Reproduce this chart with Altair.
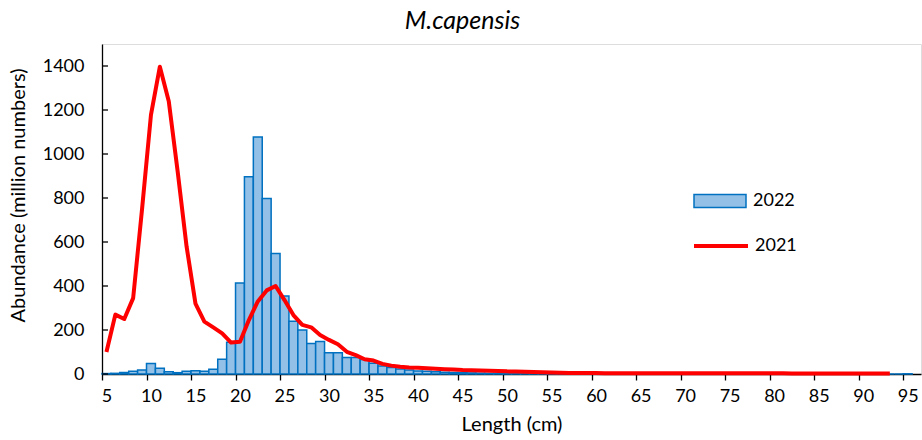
import altair as alt
import pandas as pd

# ---- data ----
lengths_2022 = list(range(5, 96))
values_2022 = [2, 3, 7, 12, 18, 48, 26, 10, 6, 12, 15, 12, 22, 67, 144, 414, 897, 1077, 798, 548,
               355, 240, 200, 139, 148, 97, 97, 75, 75, 66, 49, 36, 29, 23, 18, 14, 12, 10, 8, 7,
               6, 5, 4, 3, 3, 2, 2, 2, 1, 1, 1, 0, 0, 0, 0, 0, 0, 0, 0, 0,
               0, 0, 0, 0, 0, 0, 0, 0, 0, 0, 0, 0, 0, 0, 0, 0, 0, 0, 0, 0,
               0, 0, 0, 0, 0, 0, 0, 0, 0, 0, 1]

lengths_2021 = list(range(5, 94))
values_2021 = [100, 270, 250, 345, 750, 1178, 1397, 1240, 920, 580, 320, 238, 212, 185, 143, 147,
               245, 330, 380, 400, 336, 268, 223, 212, 177, 155, 135, 101, 86, 67, 61, 46, 38, 33,
               30, 28, 26, 24, 22, 20, 18, 17, 16, 15, 14, 12, 11, 10, 9, 8, 7, 6, 5, 5, 4, 4,
               3, 3, 3, 3, 3, 3, 3, 3, 3, 3, 3, 3, 3, 3, 3, 3, 3, 3, 3, 3, 3, 2, 2, 2, 2, 2, 2,
               2, 2, 2, 2, 2, 2]

x_labels = list(range(5, 100, 5))
y_labels = list(range(0, 1600, 200))

df22 = pd.DataFrame({"L": lengths_2022, "v": values_2022, "series": "2022"})
df21 = pd.DataFrame({"L": lengths_2021, "v": values_2021, "series": "2021"})
dft = pd.DataFrame({"t": y_labels})

FONT = "Lato"
BLUE = "#0070C0"
RED = "#FF0000"
FILL = "#92c0e6"

xscale = alt.Scale(domain=[4.5, 96.5], nice=False, zero=False)
yscale = alt.Scale(domain=[0, 1500], nice=False)

xaxis = alt.Axis(values=x_labels, title="Length (cm)", grid=False, tickSize=6,
                 tickOffset=-4.45, labelOffset=4.45, labelFontSize=18, labelFont=FONT,
                 labelColor="#000", titleFont=FONT, titleFontSize=20, titleFontWeight="normal",
                 titleColor="#000", domainColor="#000", domainWidth=1.3, tickColor="#000",
                 tickWidth=1.3, labelPadding=7, titlePadding=9, labelFlush=False)
yaxis = alt.Axis(values=y_labels, format="d", title="Abundance (million numbers)", grid=False,
                 ticks=False, labelFontSize=18, labelFont=FONT, labelColor="#000",
                 titleFont=FONT, titleFontSize=20, titleFontWeight="normal", titleColor="#000",
                 titleAngle=270, titleAlign="center", titleBaseline="middle",
                 titleX=-84, titleY=151,
                 domainColor="#000", domainWidth=1.3, labelPadding=18)

bars = alt.Chart(df22).transform_calculate(
    lo="datum.L - 0.5", hi="datum.L + 0.5"
).mark_bar(stroke=BLUE, strokeWidth=1.5).encode(
    x=alt.X("lo:Q", scale=xscale, axis=xaxis),
    x2="hi:Q",
    y=alt.Y("v:Q", scale=yscale, axis=yaxis),
    y2=alt.datum(0),
    fill=alt.Fill("series:N", scale=alt.Scale(domain=["2022"], range=[FILL]),
                  legend=alt.Legend(title=None, orient="none", legendX=591, legendY=130,
                                    symbolType="M-1,-0.25H1V0.25H-1Z", symbolSize=2704,
                                    symbolStrokeColor=BLUE, symbolStrokeWidth=1.5,
                                    symbolOpacity=1, labelFont=FONT, labelFontSize=18,
                                    labelColor="#000", labelOffset=6, padding=0)),
)

line = alt.Chart(df21).mark_line(strokeWidth=4, strokeJoin="round").encode(
    x=alt.X("L:Q", scale=xscale, axis=xaxis),
    y=alt.Y("v:Q", scale=yscale, axis=yaxis),
    stroke=alt.Stroke("series:N", scale=alt.Scale(domain=["2021"], range=[RED]),
                      legend=alt.Legend(title=None, orient="none", legendX=590, legendY=173,
                                        symbolType="stroke", symbolSize=2916,
                                        symbolStrokeWidth=4, labelFont=FONT, labelFontSize=18,
                                        labelColor="#000", labelOffset=5, padding=0)),
)

yticks = alt.Chart(dft).mark_rule(color="#000", strokeWidth=1.3).encode(
    y=alt.Y("t:Q", scale=yscale, axis=yaxis),
    x=alt.value(0),
    x2=alt.value(6),
)

chart = alt.layer(bars, line, yticks).resolve_scale(
    fill="independent", stroke="independent"
).properties(
    width=819,
    height=330,
    title=alt.TitleParams("M.capensis", font=FONT, fontSize=25, fontStyle="italic",
                          fontWeight="normal", color="#000", anchor="middle", dx=-49, offset=10),
    autosize=alt.AutoSizeParams(type="none"),
    padding={"left": 102, "top": 44, "right": 1, "bottom": 66},
).configure_view(stroke=None).configure(background="white")

chart.save("out.html", embed_options={"renderer": "svg", "actions": False})
